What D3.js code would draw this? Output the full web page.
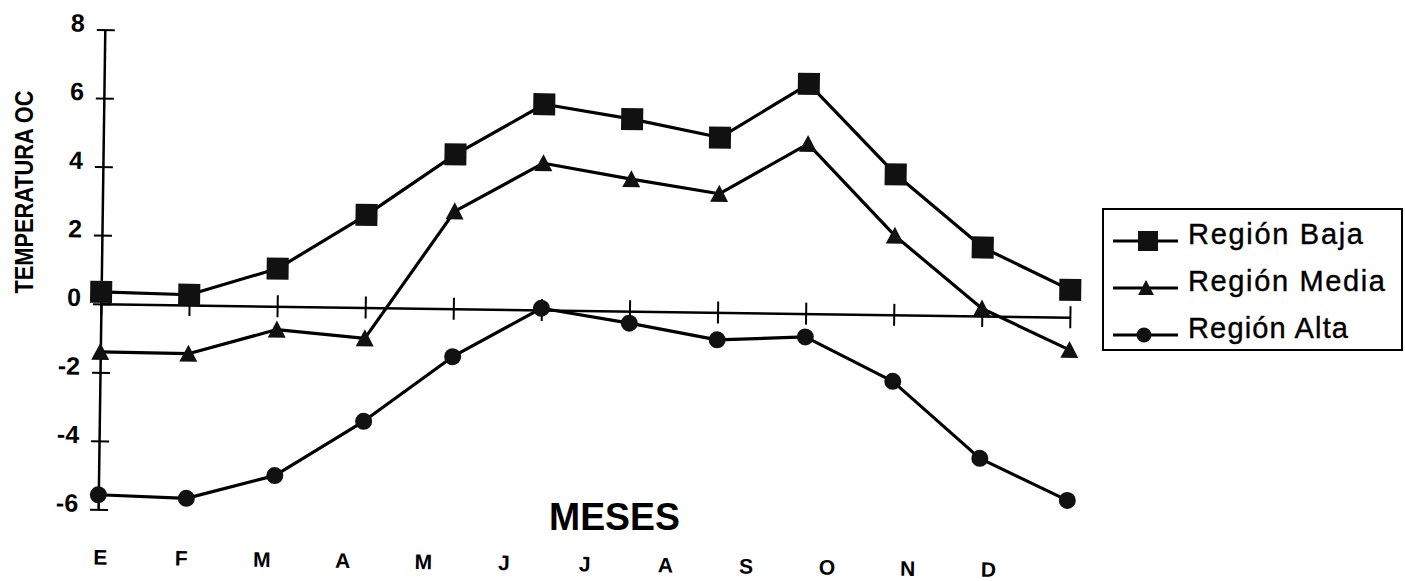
<!DOCTYPE html>
<html><head><meta charset="utf-8">
<script src="https://cdn.jsdelivr.net/npm/d3@7"></script>
<style>body{margin:0;background:#fff} svg{display:block}</style>
</head><body>
<svg id="c" width="1405" height="581"></svg>
<script>
const months = ["E","F","M","A","M","J","J","A","S","O","N","D"];
const yTicks = [-6,-4,-2,0,2,4,6,8];
const baja  = [0.35, 0.30, 1.10, 2.70, 4.50, 6.00, 5.60, 5.10, 6.70, 4.10, 2.00, 0.80];
const media = [-1.40, -1.42, -0.68, -0.90, 2.84, 4.28, 3.85, 3.46, 4.95, 2.31, 0.22, -0.95];
const alta  = [-5.57, -5.64, -4.94, -3.32, -1.40, 0.05, -0.35, -0.80, -0.68, -1.94, -4.15, -5.34];
const seriesNames = ["Región Baja","Región Media","Región Alta"];
const yTitle = "TEMPERATURA OC";
const xTitle = "MESES";

const font = "'Liberation Sans', Arial, Helvetica, sans-serif";
const svg = d3.select("#c");
svg.append("rect").attr("width",1405).attr("height",581).attr("fill","#fff");

const idx = d3.range(months.length);
const x = d3.scalePoint().domain(idx).range([0, 969]);
const xLab = d3.scalePoint().domain(idx).range([3, 891]);
const y = d3.scaleLinear().domain([-6, 8]).range([207, -273]);

const g = svg.append("g").attr("transform","translate(101,302.5) rotate(0.8)");

// Y axis
const ya = g.append("g").call(d3.axisLeft(y).tickValues(yTicks).tickSizeInner(8).tickSizeOuter(0).tickFormat(d=>d));
ya.select(".domain").attr("stroke","#000").attr("stroke-width",2.5);
ya.selectAll(".tick line").attr("x1",-8).attr("x2",10).attr("stroke","#000").attr("stroke-width",2);
ya.selectAll(".tick text").attr("x",-20).attr("y",-7).attr("dy","0.36em")
  .attr("font-size",25).attr("font-weight","bold").attr("font-family",font).attr("fill","#000");

// X axis at zero
const xa = g.append("g").attr("transform",`translate(0,${y(0)})`)
  .call(d3.axisBottom(x).tickSizeInner(11).tickSizeOuter(0).tickFormat(""));
xa.select(".domain").attr("stroke","#000").attr("stroke-width",2.5);
xa.selectAll(".tick line").attr("y1",-11).attr("y2",11).attr("stroke","#000").attr("stroke-width",2);

// month labels
g.append("g").selectAll("text").data(idx).join("text")
  .attr("x", i=>xLab(i)).attr("y", 262)
  .attr("text-anchor","middle").attr("font-size",21).attr("font-weight","bold")
  .attr("font-family",font).attr("fill","#000").text(i=>months[i]);

// lines
const line = d3.line().x((d,i)=>x(i)).y(d=>y(d));
[baja, media, alta].forEach(s=>{
  g.append("path").datum(s).attr("d",line).attr("fill","none")
   .attr("stroke","#000").attr("stroke-width",3.2).attr("stroke-linejoin","round");
});

// markers
g.append("g").selectAll("rect").data(baja).join("rect")
  .attr("x",(d,i)=>x(i)-11).attr("y",d=>y(d)-11).attr("width",22).attr("height",22).attr("fill","#111");
g.append("g").selectAll("path").data(media).join("path")
  .attr("transform",(d,i)=>`translate(${x(i)},${y(d)})`)
  .attr("d","M0,-9L9,8L-9,8Z").attr("fill","#111");
g.append("g").selectAll("circle").data(alta).join("circle")
  .attr("cx",(d,i)=>x(i)).attr("cy",d=>y(d)).attr("r",8.5).attr("fill","#111");

// axis titles
svg.append("text").attr("transform","translate(33,192) rotate(-90)")
  .attr("text-anchor","middle").attr("font-size",25).attr("font-weight","bold")
  .attr("font-family",font).attr("textLength",203).attr("lengthAdjust","spacingAndGlyphs")
  .attr("fill","#000").text(yTitle);
svg.append("text").attr("x",549).attr("y",530)
  .attr("font-size",39).attr("font-weight","bold")
  .attr("font-family",font).attr("textLength",131).attr("lengthAdjust","spacingAndGlyphs")
  .attr("fill","#000").text(xTitle);

// legend
const lg = svg.append("g");
lg.append("rect").attr("x",1103).attr("y",209).attr("width",299).attr("height",141)
  .attr("fill","none").attr("stroke","#000").attr("stroke-width",2);
const rowsY = [241, 288, 335];
const lens = [175, 197, 160];
seriesNames.forEach((name,k)=>{
  const cy = rowsY[k];
  lg.append("line").attr("x1",1113).attr("x2",1178).attr("y1",cy).attr("y2",cy)
    .attr("stroke","#000").attr("stroke-width",3);
  if(k===0) lg.append("rect").attr("x",1138).attr("y",cy-10).attr("width",20).attr("height",20).attr("fill","#111");
  if(k===1) lg.append("path").attr("transform",`translate(1146,${cy})`).attr("d","M0,-8L8,7L-8,7Z").attr("fill","#111");
  if(k===2) lg.append("circle").attr("cx",1144).attr("cy",cy).attr("r",7.5).attr("fill","#111");
  lg.append("text").attr("x",1188).attr("y",cy+2.5)
    .attr("font-size",29).attr("font-family",font).attr("fill","#000")
    .attr("stroke","#000").attr("stroke-width",0.4)
    .attr("textLength",lens[k]).attr("lengthAdjust","spacing")
    .text(name);
});
</script>
</body></html>
